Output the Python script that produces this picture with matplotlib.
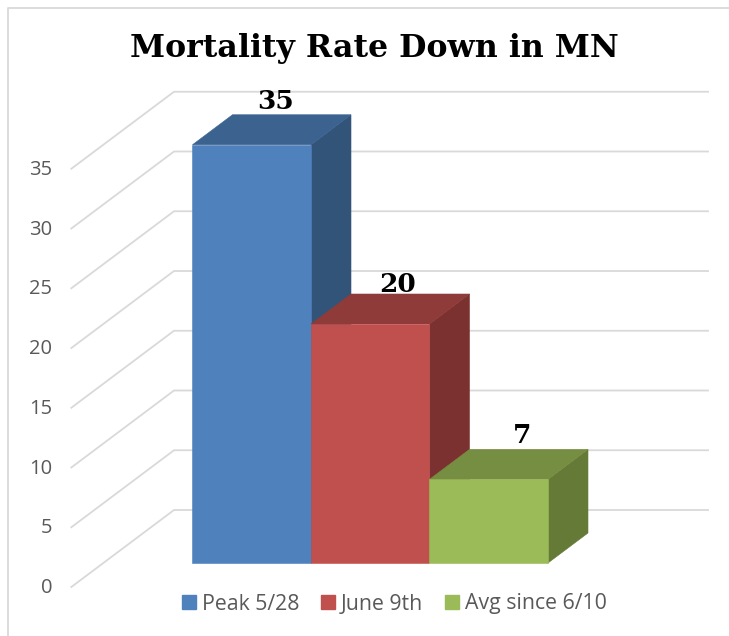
import matplotlib.pyplot as plt
from matplotlib.patches import Patch, Polygon

TITLE = "Mortality Rate Down in MN"
CATEGORIES = ["Peak 5/28", "June 9th", "Avg since 6/10"]
VALUES = [35, 20, 7]
TICKS = [0, 5, 10, 15, 20, 25, 30, 35]

FRONT_COLORS = ["#4f81bd", "#c0504d", "#9bbb59"]
TOP_COLORS = ["#3c6390", "#8f3b39", "#768e41"]
SIDE_COLORS = ["#335479", "#7b3130", "#667a38"]

GRID = "#d9d9d9"
TICK_TEXT = "#595959"

WIDTH, HEIGHT = 729, 636
BAR_PX = 118.5  # one category, in pixels
UNIT_PX = 11.95  # one value unit, in pixels
X0_PX, Y0_PX = 192.5, 563
# oblique depth of the bars, in data units
DX = 40 / BAR_PX
DY = 30 / UNIT_PX
WALL_DEPTH = 53 / 30
FLOOR_DEPTH = -24 / 30
# value labels are not centred on the bars, pixel shift from the bar centre
LABEL_SHIFT = [(24, 43), (27, 40), (33, 44)]


def project(x, y, depth=1.0):
    return x + DX * depth, y + DY * depth


def draw_bar(ax, i, value):
    left, right = i, i + 1
    front = [(left, 0), (right, 0), (right, value), (left, value)]
    top = [(left, value), (right, value), project(right, value), project(left, value)]
    side = [(right, 0), project(right, 0), project(right, value), (right, value)]
    z = 3 + i
    ax.add_patch(Polygon(side, fc=SIDE_COLORS[i], ec=SIDE_COLORS[i], lw=0.4, zorder=z))
    ax.add_patch(Polygon(top, fc=TOP_COLORS[i], ec=TOP_COLORS[i], lw=0.4, zorder=z))
    ax.add_patch(Polygon(front, fc=FRONT_COLORS[i], ec=FRONT_COLORS[i], lw=0.4, zorder=z + 0.5))


def main():
    fig = plt.figure(figsize=(WIDTH / 100, HEIGHT / 100), dpi=100)
    ax = fig.add_axes([0, 0, 1, 1])
    ax.set_xlim(-X0_PX / BAR_PX, (WIDTH - X0_PX) / BAR_PX)
    ax.set_ylim((Y0_PX - HEIGHT) / UNIT_PX, Y0_PX / UNIT_PX)
    ax.axis("off")

    # chart frame, only top and left show in the crop
    ax.plot([7.5 / WIDTH, 7.5 / WIDTH, 1], [0, 1 - 7.5 / HEIGHT, 1 - 7.5 / HEIGHT],
            transform=ax.transAxes, color=GRID, lw=1.3, zorder=1)

    front_x = (174 - X0_PX) / BAR_PX - DX * WALL_DEPTH
    end_x = (708 - X0_PX) / BAR_PX
    for tick in TICKS:
        p0 = project(front_x, tick, FLOOR_DEPTH)
        p1 = project(front_x, tick, WALL_DEPTH)
        ax.plot([p0[0], p1[0], end_x], [p0[1], p1[1], p1[1]], color=GRID, lw=1.3, zorder=2,
                solid_joinstyle="round")
        ax.text((52 - X0_PX) / BAR_PX, p0[1] - 0.1, str(tick), ha="right", va="center",
                color=TICK_TEXT, fontsize=14.5, family="Open Sans")

    for i, value in enumerate(VALUES):
        draw_bar(ax, i, value)
        shift_x, shift_y = LABEL_SHIFT[i]
        ax.text(i + 0.5 + shift_x / BAR_PX, value + shift_y / UNIT_PX, str(value),
                ha="center", va="center", fontsize=19, fontweight="bold",
                family="DejaVu Serif", color="black", zorder=10)

    ax.text(374.5 / WIDTH, 1 - 48 / HEIGHT, TITLE, transform=ax.transAxes, ha="center", va="center",
            fontsize=22.8, fontweight="bold", family="DejaVu Serif", color="black")

    handles = [Patch(fc=c, ec=c) for c in FRONT_COLORS]
    ax.legend(handles, CATEGORIES, ncol=3, frameon=False, loc="center",
              bbox_to_anchor=(394.5 / WIDTH, 1 - 604 / HEIGHT), handlelength=0.66, handleheight=0.66,
              handletextpad=0.28, columnspacing=1.0, borderpad=0,
              prop={"family": "Open Sans", "size": 15.3}, labelcolor=TICK_TEXT)

    fig.savefig("out.png", dpi=100)
    plt.close(fig)


if __name__ == "__main__":
    main()
